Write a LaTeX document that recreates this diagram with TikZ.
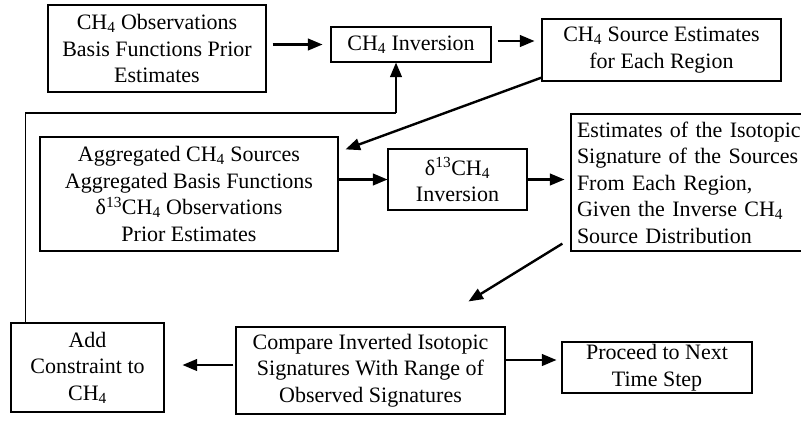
\documentclass[tikz,border=0pt]{standalone}
\usepackage{fontspec}
\setmainfont{Liberation Serif}
\usetikzlibrary{arrows}
\usetikzlibrary{positioning}

\begin{document}
\begin{tikzpicture}[
                x = 1pt, y = -1pt,
                >= triangle 45,
                box/.style = {draw, line width = 1.3pt, align = center,
                              inner sep = 0pt,
                              font = \fontsize{22}{26.5}\selectfont},
                flow/.style = {->, line width = 2.4pt},
                backline/.style = {line width = 1.2pt}
                ]
                \useasboundingbox (0,0) rectangle (801,421);

                % Boxes
                \node[box, minimum width = 218pt, minimum height = 87pt]
                      (obs) at (157,48.5)
                      {CH\textsubscript{4} Observations\\Basis Functions Prior\\Estimates};
                \node[box, minimum width = 160pt, minimum height = 35pt]
                      (inv) at (411,44.5) {CH\textsubscript{4} Inversion};
                \node[box, minimum width = 239pt, minimum height = 62pt]
                      (src) at (661.5,50)
                      {CH\textsubscript{4} Source Estimates\\for Each Region};
                \node[box, minimum width = 298pt, minimum height = 114pt]
                      (agg) at (189,194)
                      {Aggregated CH\textsubscript{4} Sources\\Aggregated Basis Functions\\
                       δ\textsuperscript{13}CH\textsubscript{4} Observations\\Prior Estimates};
                \node[box, minimum width = 139pt, minimum height = 61pt]
                      (dinv) at (457.5,179.5)
                      {δ\textsuperscript{13}CH\textsubscript{4}\\Inversion};
                \node[box, align = left, inner xsep = 6pt, text width = 232pt,
                      minimum height = 137pt]
                      (est) at (693,182.5)
                      {Estimates of the Isotopic\\Signature of the Sources\\From Each Region,\\
                       Given the Inverse CH\textsubscript{4}\\Source Distribution};
                \node[box, minimum width = 269pt, minimum height = 87pt]
                      (cmp) at (370.5,370.5)
                      {Compare Inverted Isotopic\\Signatures With Range of\\Observed Signatures};
                \node[box, minimum width = 153pt, minimum height = 89pt]
                      (add) at (87.5,367.5)
                      {Add\\Constraint to\\CH\textsubscript{4}};
                \node[box, minimum width = 190pt, minimum height = 51pt]
                      (next) at (657,367.5)
                      {Proceed to Next\\Time Step};

                % Arrows
                \draw[flow, shorten < = 6pt, shorten > = 8pt]
                      (obs.east |- inv.west) -- (inv.west);
                \draw[flow, shorten < = 6pt, shorten > = 7pt]
                      ([yshift = 3.5pt]inv.east) -- ([yshift = 3.5pt]inv.east -| src.west);
                \draw[flow] ([yshift = 4pt]src.south west)
                      -- ([xshift = 7pt, yshift = -13pt]agg.north east);
                \draw[flow] (agg.east |- dinv.west) -- (dinv.west);
                \draw[flow, shorten > = 6pt] (dinv.east) -- (dinv.east -| est.west);
                \draw[flow] ([xshift = -8pt, yshift = 8pt]est.south west)
                      -- ([xshift = -37pt, yshift = 25pt]cmp.north east);
                \draw[flow, shorten < = 2pt, shorten > = 18pt]
                      ([yshift = 5.5pt]cmp.west) -- ([yshift = 5.5pt]cmp.west -| add.east);
                \draw[flow, shorten > = 5pt]
                      ([yshift = 10.5pt]cmp.east) -- ([yshift = 10.5pt]cmp.east -| next.west);

                % Feedback to the CH4 inversion
                \coordinate (turn) at (396,113);
                \draw[backline] ([xshift = 15pt]add.north west)
                      |- (turn);
                \draw[flow] (turn) -- (turn |- inv.south);
\end{tikzpicture}
\end{document}
